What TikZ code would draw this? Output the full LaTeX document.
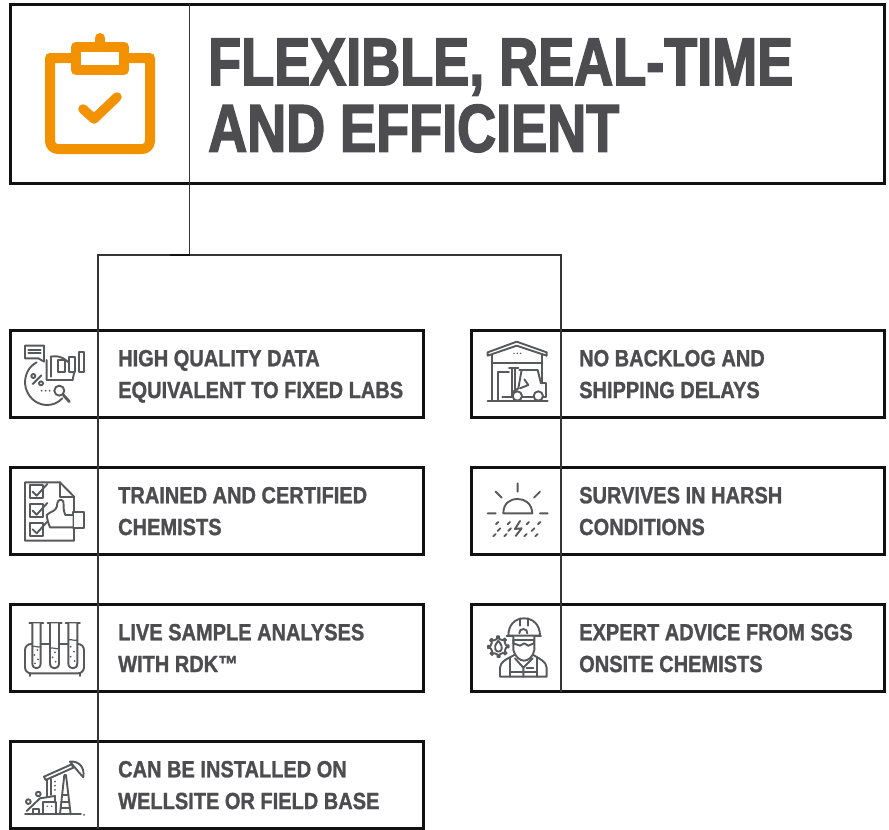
\documentclass[tikz,border=0pt]{standalone}
\usepackage{fontspec}
\setmainfont{Liberation Sans}
\newfontfamily\headfont{Liberation Sans}[BoldFeatures={FakeStretch=0.80,FakeBold=2.2}]
\newfontfamily\itemfont{Liberation Sans}[BoldFeatures={FakeStretch=0.855,FakeBold=1.2}]
\definecolor{ink}{HTML}{4D4D4F}
\definecolor{ico}{HTML}{58595B}
\definecolor{org}{HTML}{F39200}
\definecolor{frame}{HTML}{111111}
\tikzset{
  panel/.style={draw=frame,line width=3pt,fill=white,rectangle,inner sep=0pt,outer sep=0pt,anchor=north west},
  itembox/.style={panel,minimum width=413pt,minimum height=87.5pt},
  wire/.style={draw=frame!85!white,line width=1.5pt},
  itemtext/.style={font=\fontsize{23.4}{31.8}\selectfont\itemfont\bfseries,text=ink,align=left,anchor=west,inner sep=0pt,
     execute at begin node=\rule{0pt}{20pt},execute at end node=\rule[-6pt]{0pt}{6pt}},
  titletext/.style={font=\fontsize{67.5}{66.5}\selectfont\headfont\bfseries,text=ink,align=left,anchor=west,inner sep=0pt},
  glyph/.style={draw=ico,line width=1.9pt,line join=round,line cap=round},
  zoomscope/.style={shift={#1},x=0.3333pt,y=-0.3333pt}
}
\begin{document}
\begin{tikzpicture}[x=1pt,y=-1pt]
\useasboundingbox (0,0) rectangle (889,830);
% boxes
\node[panel,minimum width=874pt,minimum height=178.5pt] (top) at (10.5,4.5) {};
\node[itembox] (l1) at (10.5,330) {};
\node[itembox] (l2) at (10.5,467) {};
\node[itembox] (l3) at (10.5,604) {};
\node[itembox] (l4) at (10.5,741) {};
\node[itembox] (r1) at (471.5,330) {};
\node[itembox] (r2) at (471.5,467) {};
\node[itembox] (r3) at (471.5,604) {};
% connectors
\coordinate (topdiv) at (189.5,4);
\coordinate (topbase) at (189.5,183);
\coordinate (bus) at (189.5,255);
\coordinate (busl) at (98,255);
\coordinate (busr) at (561,255);
\coordinate (lend) at (98,829);
\coordinate (rend) at (561,692);
\draw[wire] (topdiv) -- (topbase) -- (bus);
\draw[wire] (lend) -- (busl) -- (busr) -- (rend);
\draw[frame,line width=2pt] (170,255) -- (bus);
% texts
\node[titletext] (title) at (208,95.5) {FLEXIBLE, REAL-TIME\\AND EFFICIENT};
\node[itemtext] (t1) at (118,377) {HIGH QUALITY DATA\\EQUIVALENT TO FIXED LABS};
\node[itemtext] (t2) at (118,514) {TRAINED AND CERTIFIED\\CHEMISTS};
\node[itemtext] (t3) at (118,651) {LIVE SAMPLE ANALYSES\\WITH RDK™};
\node[itemtext] (t4) at (118,788) {CAN BE INSTALLED ON\\WELLSITE OR FIELD BASE};
\node[itemtext] (t5) at (579,377) {NO BACKLOG AND\\SHIPPING DELAYS};
\node[itemtext] (t6) at (579,514) {SURVIVES IN HARSH\\CONDITIONS};
\node[itemtext] (t7) at (579,651) {EXPERT ADVICE FROM SGS\\ONSITE CHEMISTS};
% clipboard
\begin{scope}[line join=round,line cap=round]
\draw[org,line width=10pt] (76,58) -- (50,58) -- (50,141) .. controls (50,146) and (54,149) .. (58,149) -- (142,149) .. controls (146,149) and (150,146) .. (150,141) -- (150,58) -- (124,58);
\draw[org,line width=10pt] (76,47) rectangle (124,70);
\draw[org,line width=10pt] (100,47) -- (100,38);
\draw[org,line width=9.5pt] (83,109) -- (94,119) -- (117,97);
\end{scope}
% icon 1: data
\begin{scope}[zoomscope={(0,320)}]
\draw[glyph] (75,77) -- (132,77) -- (132,125) -- (115,115) -- (75,115) -- cycle;
\draw[glyph] (85,90) -- (122,90) (85,100) -- (122,100);
\draw[glyph] (110,127) .. controls (85,140) and (75,165) .. (75,190) .. controls (78,230) and (110,255) .. (140,255) .. controls (158,255) and (172,250) .. (187,235);
\draw[glyph] (140,120) -- (140,180) -- (218,180) -- (224,150);
\draw[glyph] (152,110) -- (152,170);
\draw[glyph] (152,110) .. controls (180,105) and (200,115) .. (225,150);
\draw[glyph,fill=white] (175,120) -- (195,120) -- (195,155) -- (175,155) -- cycle;
\draw[glyph,fill=white] (208,110) -- (224,110) -- (224,155) -- (208,155) -- cycle;
\draw[glyph,fill=white] (236,95) -- (252,95) -- (252,155) -- (236,155) -- cycle;
\draw[glyph,fill=white] (178,212) circle[radius=15];
\draw[glyph,line width=2.8pt] (190,225) -- (208,245);
\draw[glyph] (98,192) -- (124,166);
\draw[glyph] (100,168) circle[radius=6] (123,190) circle[radius=6];
\foreach \p in {125,137,149}{\fill[ico] (\p,212) circle[radius=3];}
\end{scope}
% icon 2: checklist
\begin{scope}[zoomscope={(0,320)}]
\draw[glyph] (222,575) -- (222,530) -- (180,487) -- (75,487) -- (75,662) -- (222,662) -- (222,628);
\draw[glyph] (180,487) -- (180,530) -- (222,530);
\draw[glyph] (90,495) rectangle (130,535);
\draw[glyph] (90,552) rectangle (130,592);
\draw[glyph] (90,608) rectangle (130,648);
\draw[glyph] (98,515) -- (110,527) -- (142,492);
\draw[glyph] (98,572) -- (110,584) -- (142,549);
\draw[glyph] (98,628) -- (110,640) -- (142,605);
\draw[glyph] (218,576) rectangle (252,625);
\draw[glyph,fill=white] (218,585) -- (196,585) .. controls (188,570) and (192,550) .. (190,545) .. controls (185,535) and (172,540) .. (172,550) .. controls (172,565) and (165,572) .. (150,578) -- (140,585) .. controls (142,600) and (145,610) .. (150,622) -- (218,622);
\end{scope}
% icon 3: tubes
\begin{scope}[zoomscope={(0,595)}]
\draw[glyph,rounded corners=6pt] (75,147) rectangle (252,235);
\draw[glyph] (90,235) -- (90,243) (240,235) -- (240,243);
\foreach \a/\b/\c/\lv in {88/97/122/155, 143/150/177/160, 197/205/232/135}{
  \draw[glyph] (\a,85) -- (\c+8,85);
  \draw[glyph,fill=white] (\b,85) -- (\b,205) .. controls (\b,225) and (\c,225) .. (\c,205) -- (\c,85);
  \draw[glyph,line width=1.2pt] (\b,\lv) .. controls (\b+8,\lv-4) and (\c-8,\lv+4) .. (\c,\lv);
}
\foreach \p/\q in {112/165,103/180,114/193,105/205,165/172,158/187,167/200,212/155,222/170,212/185,224/198}{
  \fill[ico] (\p,\q) circle[radius=3];
}
\end{scope}
% icon 4: oil pump
\begin{scope}[zoomscope={(0,595)}]
\draw[glyph] (75,658) -- (243,658);
\fill[ico] (252,660) circle[radius=3];
\draw[glyph] (132,545) -- (215,508) -- (220,518) -- (137,555) -- cycle;
\draw[glyph] (210,500) .. controls (235,497) and (255,515) .. (250,547) -- (235,530) -- cycle;
\draw[glyph] (180,658) -- (193,540) -- (198,540) -- (212,658);
\draw[glyph] (186,600) -- (205,600) (184,622) -- (208,622) (182,640) -- (210,640);
\draw[glyph] (140,553) -- (140,605) (152,552) -- (152,600);
\fill[ico] (165,560) circle[radius=3] (165,572) circle[radius=3] (165,585) circle[radius=3];
\draw[glyph] (130,658) -- (130,622) -- (168,622) -- (168,658);
\draw[glyph] (165,622) -- (165,603) -- (120,610) -- (80,648);
\draw[glyph] (100,658) -- (100,642) -- (116,642) -- (116,658);
\draw[glyph] (85,620) circle[radius=7] (115,597) circle[radius=7];
\fill[ico] (142,634) circle[radius=2.5] (155,634) circle[radius=2.5];
\end{scope}
% icon 5: warehouse
\begin{scope}[zoomscope={(465,320)}]
\draw[glyph] (68,97) -- (155,65) -- (245,97) -- (245,107) -- (155,77) -- (68,107) -- cycle;
\draw[glyph] (82,105) -- (82,242) (232,102) -- (232,190);
\draw[glyph] (68,242) -- (248,242);
\draw[glyph] (82,130) -- (232,130);
\fill[ico] (147,100) circle[radius=2.5] (157,100) circle[radius=2.5] (167,100) circle[radius=2.5];
\draw[glyph] (100,242) -- (100,155) -- (132,155);
\draw[glyph] (132,145) -- (160,145) (140,145) -- (140,232) (150,145) -- (150,215);
\draw[glyph] (112,232) -- (142,232);
\draw[glyph] (163,150) -- (218,150) -- (228,190) (170,150) -- (160,205) -- (145,215);
\draw[glyph] (178,178) -- (190,195) -- (165,205);
\draw[glyph] (228,190) -- (243,190) -- (243,232) -- (235,232);
\draw[glyph] (172,232) -- (205,232);
\draw[glyph,fill=white] (157,228) circle[radius=14] (220,228) circle[radius=14];
\end{scope}
% icon 6: sun
\begin{scope}[zoomscope={(465,320)}]
\draw[glyph] (115,580) .. controls (115,550) and (135,537) .. (158,537) .. controls (180,537) and (200,550) .. (202,580) -- cycle;
\draw[glyph] (158,490) -- (158,515) (92,515) -- (110,533) (225,515) -- (207,533) (68,580) -- (92,580) (225,580) -- (248,580);
\foreach \p/\q in {100/606,135/606,192/606,226/606,92/642,125/642,185/642,218/642}{
  \draw[glyph] (\p,\q) -- (\p-7,\q+7);
}
\foreach \p/\q in {106/625,138/625,208/625}{
  \draw[glyph] (\p,\q) -- (\p-8,\q+8);
}
\draw[glyph] (165,603) -- (150,627) -- (170,625) -- (152,648);
\end{scope}
% icon 7: engineer
\begin{scope}[zoomscope={(465,595)}]
% gear
\foreach \a in {0,45,...,315}{
  \draw[glyph] (100,155) ++(\a-9:24) -- ++(\a-3:7) arc[start angle=\a-6,end angle=\a+6,radius=31] -- ++(\a+183:7) arc[start angle=\a+9,end angle=\a+36,radius=24];
}
\draw[glyph] (100,137) .. controls (90,150) and (88,157) .. (91,163) .. controls (95,172) and (106,172) .. (110,163) .. controls (112,157) and (110,150) .. (100,137) -- cycle;
% person
\draw[glyph,fill=white] (105,245) -- (105,218) .. controls (106,200) and (125,192) .. (148,180) -- (205,180) .. controls (225,192) and (244,200) .. (245,218) -- (245,245) -- cycle;
\draw[glyph,fill=white] (130,122) .. controls (130,90) and (150,70) .. (177,70) .. controls (205,70) and (225,90) .. (225,122) -- cycle;
\draw[glyph] (125,122) -- (228,122);
\draw[glyph] (165,70) -- (165,92) (188,70) -- (188,92);
\draw[glyph] (163,115) .. controls (160,98) and (190,98) .. (187,115);
\draw[glyph,fill=white] (145,125) -- (145,165) .. controls (150,185) and (165,197) .. (177,197) .. controls (190,197) and (205,185) .. (208,165) -- (208,125);
\draw[glyph] (145,135) -- (207,135) -- (207,145) -- (190,152) -- (178,145) -- (165,152) -- (145,145) -- cycle;
\draw[glyph] (135,190) -- (135,245) (215,190) -- (215,245);
\draw[glyph] (150,190) -- (175,218) -- (203,190) (175,218) -- (175,245);
\draw[glyph] (135,232) -- (215,232) (185,220) -- (205,220);
\end{scope}
\end{tikzpicture}
\end{document}
